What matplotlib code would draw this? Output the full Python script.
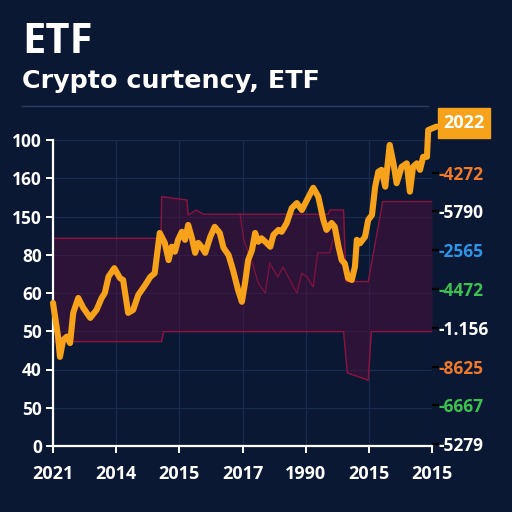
import matplotlib
matplotlib.use("Agg")
import matplotlib.pyplot as plt
import numpy as np

# ---------------- data ----------------
x_labels = ["2021", "2014", "2015", "2017", "1990", "2015", "2015"]
y_left_labels = ["0", "50", "40", "50", "60", "80", "150", "160", "100"]
y_right_labels = ["-5279", "-6667", "-8625", "-1.156", "-4472", "-2565", "-5790", "-4272"]
y_right_pos = [0.05, 1.07, 2.07, 3.08, 4.10, 5.12, 6.15, 7.15]
y_right_label_colors = ["white", "#3dc24f", "#f07a2a", "white", "#3dc24f", "#2f93e6", "white", "#f07a2a"]
y_right_tick_colors = ["white", "#3dc24f", "#f07a2a", "#f07a2a", "#3dc24f", "#2f93e6", "#2f93e6", "#f07a2a"]
end_label = "2022"

price_x = [0.00, 0.08, 0.11, 0.16, 0.22, 0.27, 0.32, 0.40, 0.48, 0.59, 0.69, 0.77, 0.82, 0.88,
           0.97, 1.06, 1.11, 1.19, 1.27, 1.35, 1.46, 1.54, 1.61, 1.69, 1.77, 1.83, 1.88, 1.93,
           1.98, 2.04, 2.09, 2.14, 2.20, 2.25, 2.30, 2.35, 2.41, 2.49, 2.56, 2.64, 2.70, 2.78,
           2.85, 2.93, 2.99, 3.04, 3.09, 3.15, 3.20, 3.25, 3.30, 3.38, 3.44, 3.49, 3.57, 3.62,
           3.70, 3.78, 3.86, 3.94, 4.02, 4.12, 4.20, 4.28, 4.33, 4.41, 4.46, 4.52, 4.57, 4.62,
           4.67, 4.73, 4.78, 4.81, 4.86, 4.94, 4.99, 5.05, 5.10, 5.15, 5.20, 5.26, 5.33, 5.39,
           5.44, 5.52, 5.60, 5.65, 5.70, 5.76, 5.81, 5.86, 5.92, 5.94, 6.07]
price_y = [3.74, 2.86, 2.33, 2.77, 2.86, 2.69, 3.48, 3.87, 3.61, 3.35, 3.56, 3.87, 4.00, 4.43,
           4.65, 4.39, 4.34, 3.48, 3.56, 3.95, 4.21, 4.42, 4.52, 5.57, 5.31, 4.86, 5.21, 5.08,
           5.39, 5.60, 5.39, 5.78, 5.43, 5.05, 5.31, 5.21, 5.05, 5.47, 5.73, 5.57, 5.18, 4.99,
           4.60, 4.08, 3.77, 4.26, 4.86, 5.12, 5.57, 5.34, 5.43, 5.31, 5.21, 5.52, 5.65, 5.60,
           5.83, 6.22, 6.35, 6.17, 6.43, 6.75, 6.52, 5.91, 5.65, 5.83, 5.73, 5.21, 4.86, 4.77,
           4.39, 4.34, 4.69, 5.39, 5.30, 5.47, 5.91, 6.04, 6.78, 7.17, 7.22, 6.78, 7.87, 7.39,
           6.87, 7.30, 7.39, 6.65, 7.30, 7.39, 7.22, 7.56, 7.56, 8.26, 8.35]

band_x = [0.00, 1.71, 1.72, 2.12, 2.14, 2.27, 2.38, 4.36, 4.38, 4.60, 4.64, 4.99, 5.22, 6.00]
band_upper = [5.43, 5.43, 6.52, 6.43, 6.04, 6.17, 6.06, 6.06, 6.17, 6.17, 4.30, 4.30, 6.39, 6.39]

low_x = [0.00, 1.72, 1.75, 4.60, 4.66, 4.99, 5.04, 6.00]
band_lower = [2.73, 2.73, 2.99, 2.99, 1.91, 1.72, 2.99, 2.99]

inner_x = [2.96, 3.02, 3.15, 3.25, 3.36, 3.43, 3.56, 3.64, 3.75, 3.86, 3.94, 4.02, 4.12, 4.19, 4.38, 4.43]
inner_y = [6.07, 5.39, 4.81, 4.26, 4.00, 4.78, 4.42, 4.68, 4.34, 4.00, 4.52, 4.42, 4.16, 5.05, 5.05, 5.39]

# ---------------- style ----------------
BG = "#0a1834"
ORANGE = "#f7a21b"
CRIMSON = "#9c1340"
FONT = "Open Sans"

fig = plt.figure(figsize=(5.12, 5.12), dpi=100)
fig.patch.set_facecolor(BG)
ax = fig.add_axes([53 / 512, 1 - 446 / 512, (432 - 53) / 512, (446 - 140) / 512])
ax.set_facecolor(BG)

ax.set_xlim(0, 6)
ax.set_ylim(0, 8)

grid = np.linspace(0, 6, 1201)
up_i = np.interp(grid, band_x, band_upper)
lo_i = np.interp(grid, low_x, band_lower)
ax.fill_between(grid, lo_i, up_i, color="#4a0f3c", alpha=0.55, linewidth=0, zorder=1)
ax.plot(band_x, band_upper, color=CRIMSON, lw=1.0, zorder=2, alpha=0.9)
ax.plot(low_x, band_lower, color=CRIMSON, lw=1.0, zorder=2, alpha=0.9)
ax.plot(inner_x, inner_y, color=CRIMSON, lw=0.9, zorder=2, alpha=0.75)

ax.plot(price_x, price_y, color=ORANGE, lw=4.4, solid_joinstyle="round",
        solid_capstyle="round", zorder=4, clip_on=False)

ax.set_xticks(range(7))
ax.set_yticks(range(9))
ax.grid(True, color="#1c2c4e", lw=0.8, zorder=0)
ax.set_axisbelow(True)

for s in ["top", "right"]:
    ax.spines[s].set_visible(False)
for s in ["left", "bottom"]:
    ax.spines[s].set_color("white")
    ax.spines[s].set_linewidth(1.6)

ax.set_xticklabels(x_labels, fontsize=13, fontfamily=FONT, fontweight="bold", color="white")
ax.set_yticklabels(y_left_labels, fontsize=12.5, fontfamily=FONT, fontweight="bold", color="white")
ax.tick_params(axis="both", colors="white", length=5, width=1.4, labelcolor="white")
ax.tick_params(axis="x", pad=9)
ax.tick_params(axis="y", pad=3)

ax2 = ax.twinx()
ax2.set_ylim(0, 8)
for s in ax2.spines.values():
    s.set_visible(False)
ax2.set_yticks(y_right_pos)
ax2.set_yticklabels(y_right_labels, fontsize=12.5, fontfamily=FONT, fontweight="bold")
ax2.tick_params(axis="y", length=5, width=1.6, pad=0)
for t, lab, lc, tc in zip(ax2.yaxis.get_major_ticks(), ax2.get_yticklabels(),
                          y_right_label_colors, y_right_tick_colors):
    t.tick2line.set_color(tc)
    lab.set_color(lc)

ax.annotate(end_label, xy=(price_x[-1], price_y[-1]), xycoords="data",
            xytext=(464 / 512, 1 - 123 / 512), textcoords="figure fraction",
            ha="center", va="center", fontsize=13, fontfamily=FONT, fontweight="bold",
            color="white", annotation_clip=False,
            bbox=dict(boxstyle="square,pad=0.32", fc=ORANGE, ec=ORANGE))

fig.text(22 / 512, 1 - 53 / 512, "ETF", fontsize=30, fontfamily=FONT, fontweight="bold",
         color="white", va="baseline", ha="left")
fig.text(22 / 512, 1 - 88 / 512, "Crypto curtency, ETF", fontsize=18.3, fontfamily="DejaVu Sans",
         fontweight="bold", color="white", va="baseline", ha="left")
fig.add_artist(plt.Line2D([22 / 512, 428 / 512], [1 - 106 / 512, 1 - 106 / 512],
                          color="#2b3d60", lw=1.0, transform=fig.transFigure))

fig.savefig("out.png", dpi=100, facecolor=BG)
